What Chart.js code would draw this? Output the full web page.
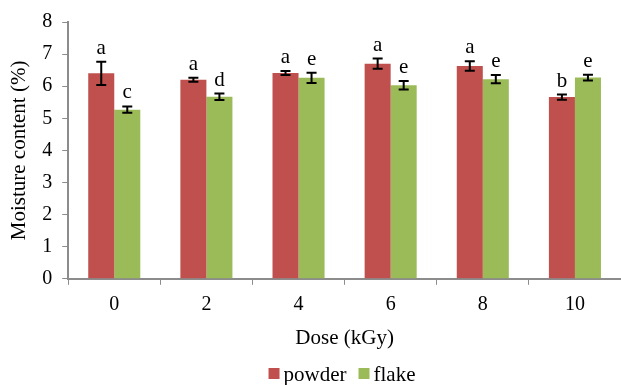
<!DOCTYPE html>
<html>
<head>
<meta charset="utf-8">
<script src="https://cdn.jsdelivr.net/npm/chart.js@4/dist/chart.umd.min.js"></script>
<style>
  html, body { margin: 0; padding: 0; background: #fff; }
  #wrap { width: 621px; height: 385px; }
</style>
</head>
<body>
<div id="wrap"><canvas id="myChart" width="621" height="385"></canvas></div>
<script>
// doses on the x axis
const doses = ['0', '2', '4', '6', '8', '10'];
// moisture content (%)
const powderValues = [6.40, 6.20, 6.41, 6.70, 6.63, 5.66];
const flakeValues = [5.27, 5.67, 6.26, 6.03, 6.22, 6.27];
// error bar half widths
const powderErrors = [0.36, 0.06, 0.06, 0.16, 0.15, 0.08];
const flakeErrors = [0.10, 0.10, 0.16, 0.13, 0.13, 0.09];
// significance letters
const powderLetters = ['a', 'a', 'a', 'a', 'a', 'b'];
const flakeLetters = ['c', 'd', 'e', 'e', 'e', 'e'];
const yTicks = [0, 1, 2, 3, 4, 5, 6, 7, 8];

const serif = '"Liberation Serif", "Times New Roman", serif';
const axisGray = '#8c8c8c';

const errors = [powderErrors, flakeErrors];
const letters = [powderLetters, flakeLetters];

// draws error bars and the letters above them
const errorBarPlugin = {
    id: 'errorBars',
    afterDatasetsDraw(chart) {
        const ctx = chart.ctx;
        const yScale = chart.scales.y;
        chart.data.datasets.forEach((ds, i) => {
            const meta = chart.getDatasetMeta(i);
            meta.data.forEach((bar, j) => {
                const v = ds.data[j];
                const err = errors[i][j];
                const x = bar.x;
                const yTop = yScale.getPixelForValue(v + err);
                const yBot = yScale.getPixelForValue(v - err);
                ctx.save();
                ctx.strokeStyle = '#000';
                ctx.lineWidth = 2;
                ctx.beginPath();
                ctx.moveTo(x, yTop);
                ctx.lineTo(x, yBot);
                ctx.moveTo(x - 5, yTop);
                ctx.lineTo(x + 5, yTop);
                ctx.moveTo(x - 5, yBot);
                ctx.lineTo(x + 5, yBot);
                ctx.stroke();
                ctx.fillStyle = '#000';
                ctx.font = '21px ' + serif;
                ctx.textAlign = 'center';
                ctx.textBaseline = 'alphabetic';
                ctx.fillText(letters[i][j], x, yTop - 8);
                ctx.restore();
            });
        });
    }
};

// small legend at the bottom, laid out like the original
const legendPlugin = {
    id: 'bottomLegend',
    afterDraw(chart) {
        const ctx = chart.ctx;
        const sets = chart.data.datasets;
        ctx.save();
        ctx.font = '21px ' + serif;
        const box = 11, gap = 4, spacing = 12;
        let total = 0;
        sets.forEach((ds, i) => {
            total += box + gap + ctx.measureText(ds.label).width;
            if (i < sets.length - 1) total += spacing;
        });
        let x = 342 - total / 2;
        const y = 375;
        ctx.textBaseline = 'middle';
        ctx.textAlign = 'left';
        sets.forEach(ds => {
            ctx.fillStyle = ds.backgroundColor;
            ctx.fillRect(x, y - 7, box, box);
            x += box + gap;
            ctx.fillStyle = '#000';
            ctx.fillText(ds.label, x, y);
            x += ctx.measureText(ds.label).width + spacing;
        });
        ctx.restore();
    }
};

const ctx = document.getElementById('myChart').getContext('2d');
new Chart(ctx, {
    type: 'bar',
    data: {
        labels: doses,
        datasets: [
            {
                label: 'powder',
                backgroundColor: '#C0504D',
                data: powderValues,
                categoryPercentage: 0.565,
                barPercentage: 1.0
            },
            {
                label: 'flake',
                backgroundColor: '#9BBB59',
                data: flakeValues,
                categoryPercentage: 0.565,
                barPercentage: 1.0
            }
        ]
    },
    options: {
        responsive: false,
        animation: false,
        layout: { padding: { left: 7, right: 0, top: 4, bottom: 29 } },
        plugins: {
            legend: { display: false },
            tooltip: { enabled: false }
        },
        scales: {
            x: {
                grid: {
                    display: true,
                    drawOnChartArea: false,
                    drawTicks: true,
                    tickLength: 6,
                    color: axisGray,
                    offset: true
                },
                border: { color: axisGray, width: 2 },
                ticks: {
                    font: { family: serif, size: 20 },
                    color: '#000',
                    padding: 8
                },
                title: {
                    display: true,
                    text: 'Dose (kGy)',
                    font: { family: serif, size: 21 },
                    color: '#000',
                    padding: { top: 1, bottom: 5 }
                }
            },
            y: {
                min: 0,
                max: 8,
                afterBuildTicks: axis => {
                    axis.ticks = yTicks.map(v => ({ value: v }));
                },
                grid: {
                    display: true,
                    drawOnChartArea: false,
                    drawTicks: true,
                    tickLength: 6,
                    color: axisGray
                },
                border: { color: axisGray, width: 2 },
                ticks: {
                    font: { family: serif, size: 20 },
                    color: '#000',
                    padding: 10
                },
                title: {
                    display: true,
                    text: 'Moisture content (%)',
                    font: { family: serif, size: 21 },
                    color: '#000',
                    padding: { top: 0, bottom: 0 }
                }
            }
        }
    },
    plugins: [errorBarPlugin, legendPlugin]
});
</script>
</body>
</html>
